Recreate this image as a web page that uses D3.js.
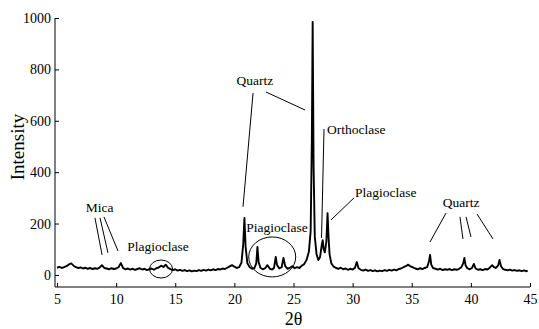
<!DOCTYPE html>
<html>
<head>
  <title>XRD pattern</title>
  <script src="https://d3js.org/d3.v7.min.js"></script>
  <style>
    body { margin: 0; background: #fff; }
    text { font-family: "Liberation Serif", "Times New Roman", Times, serif; fill: #000; }
  </style>
</head>
<body>
<script>

var width = 539;
var height = 329;

// diffraction pattern
var twoTheta = [5.0,5.2,5.4,5.6,5.8,6.0,6.2,6.4,6.6,6.8,7.0,7.2,7.4,7.6,7.8,8.0,8.2,8.4,8.6,8.8,
  9.0,9.2,9.4,9.6,9.8,10.0,10.2,10.4,10.6,10.8,11.0,11.2,11.4,11.6,11.8,12.0,12.2,12.4,12.6,12.8,
  13.0,13.2,13.4,13.6,13.8,14.0,14.2,14.4,14.6,14.8,15.0,15.2,15.4,15.6,15.8,16.0,16.2,16.4,16.6,16.8,
  17.0,17.2,17.4,17.6,17.8,18.0,18.2,18.4,18.6,18.8,19.0,19.2,19.4,19.6,19.8,20.0,20.2,20.4,
  20.6,20.75,20.85,20.95,21.1,21.3,21.5,21.7,21.85,21.95,22.05,22.2,22.4,22.6,22.8,23.0,23.2,23.35,23.5,23.6,
  23.8,24.0,24.15,24.3,24.5,24.7,24.9,25.1,25.3,25.5,25.7,25.9,26.1,26.3,26.45,26.55,26.62,26.7,26.8,26.95,
  27.1,27.25,27.4,27.47,27.55,27.65,27.78,27.88,27.96,28.05,28.2,28.4,28.6,28.8,29.0,29.2,29.4,29.6,29.8,30.0,
  30.2,30.35,30.5,30.7,30.9,31.1,31.3,31.5,31.7,31.9,32.1,32.3,32.5,32.7,32.9,33.1,33.3,33.5,33.7,33.9,
  34.1,34.3,34.5,34.7,34.9,35.1,35.3,35.5,35.7,35.9,36.1,36.3,36.45,36.55,36.65,36.8,37.0,37.2,37.4,37.6,
  37.8,38.0,38.2,38.4,38.6,38.8,39.0,39.2,39.35,39.45,39.55,39.7,39.9,40.1,40.25,40.4,40.6,40.8,41.0,41.2,
  41.4,41.6,41.8,41.95,42.1,42.3,42.42,42.55,42.7,42.9,43.1,43.3,43.5,43.7,43.9,44.1,44.3,44.5,44.7,44.8];

var intensity = [28,31,27,30,34,41,45,36,30,27,29,25,28,24,27,23,26,24,28,38,
  27,25,22,26,23,25,30,46,26,22,25,21,24,20,23,26,21,24,19,22,
  25,20,26,29,36,31,40,27,23,19,22,17,20,16,19,15,18,14,17,15,
  19,16,20,17,21,18,22,19,23,21,25,23,28,33,38,32,27,30,
  48,120,222,110,45,30,24,27,45,109,50,28,22,26,38,24,21,27,70,40,
  25,30,66,34,24,28,34,26,30,27,36,42,58,90,170,520,985,420,150,80,
  58,70,120,135,100,88,130,240,150,80,45,32,27,24,28,22,25,20,24,21,
  28,50,26,20,17,21,16,19,15,18,14,17,15,19,16,20,17,21,18,23,
  25,30,34,40,33,29,25,22,26,23,27,30,52,78,40,27,24,21,24,19,
  22,20,23,19,22,20,24,30,45,66,38,26,22,27,43,25,20,22,19,23,
  21,28,38,30,27,36,58,34,24,20,18,21,17,19,16,18,15,18,14,17];

var xTicks = [5, 10, 15, 20, 25, 30, 35, 40, 45];
var yTicks = [0, 200, 400, 600, 800, 1000];

// phase labels [text, 2theta, intensity, anchor]
var labels = [
  ['Mica', 8.6, 245, 'middle'],
  ['Plagioclase', 13.54, 93, 'middle'],
  ['Quartz', 21.74, 739, 'middle'],
  ['Orthoclase', 27.83, 549, 'start'],
  ['Plagioclase', 30.2, 303, 'start'],
  ['Piagioclase', 23.6, 167, 'middle'],
  ['Quartz', 39.17, 265, 'middle']
];

// leader lines [2theta1, I1, 2theta2, I2]
var leaders = [
  [8.21, 222, 8.81, 78],
  [8.64, 222, 9.31, 86],
  [8.97, 226, 10.16, 93],
  [21.58, 708, 20.73, 265],
  [22.67, 712, 25.97, 642],
  [27.58, 568, 27.37, 144],
  [30.12, 300, 28.17, 214],
  [37.90, 241, 36.54, 128],
  [39.08, 226, 39.33, 140],
  [39.59, 226, 40.01, 148],
  [40.52, 237, 41.87, 140]
];

// circled regions [2theta, intensity, rx, ry]
var rings = [
  [13.8, 23, 11.5, 9],
  [23.2, 70, 23.5, 20]
];

var svg = d3.select('body')
  .append('svg')
  .attr('width', width)
  .attr('height', height);

svg.append('rect')
  .attr('width', width)
  .attr('height', height)
  .attr('fill', '#fff');

var x = d3.scaleLinear().domain([5, 45]).range([57, 530]);
var y = d3.scaleLinear().domain([-47, 1000]).range([287, 18]);

// axes, ticks pointing inwards
var xAxis = svg.append('g')
  .attr('transform', 'translate(0,' + y(-47) + ')')
  .call(d3.axisBottom(x).tickValues(xTicks).tickFormat(d3.format('d'))
    .tickSizeInner(-4).tickSizeOuter(0).tickPadding(7));
xAxis.attr('font-family', null).attr('font-size', null);
xAxis.select('.domain').remove();
xAxis.selectAll('text').style('font-size', '14px');

var yAxis = svg.append('g')
  .attr('transform', 'translate(55,0)')
  .call(d3.axisLeft(y).tickValues(yTicks).tickFormat(d3.format('d'))
    .tickSizeInner(-4).tickSizeOuter(0).tickPadding(4));
yAxis.attr('font-family', null).attr('font-size', null);
yAxis.select('.domain').remove();
yAxis.selectAll('text').style('font-size', '14px');

svg.append('line')
  .attr('x1', 55).attr('x2', x(45))
  .attr('y1', y(-47)).attr('y2', y(-47))
  .attr('stroke', '#000');
svg.append('line')
  .attr('x1', 55).attr('x2', 55)
  .attr('y1', y(-47)).attr('y2', y(1000))
  .attr('stroke', '#000');

// the pattern
var pts = twoTheta.map(function(t, i) { return [t, intensity[i]]; });
var line = d3.line()
  .x(function(d) { return x(d[0]); })
  .y(function(d) { return y(d[1]); });

svg.append('path')
  .datum(pts)
  .attr('d', line)
  .attr('fill', 'none')
  .attr('stroke', '#000')
  .attr('stroke-width', 1.9)
  .attr('stroke-linejoin', 'round');

// annotations
svg.selectAll('line.leader')
  .data(leaders)
  .enter()
  .append('line')
  .attr('class', 'leader')
  .attr('x1', function(d) { return x(d[0]); })
  .attr('y1', function(d) { return y(d[1]); })
  .attr('x2', function(d) { return x(d[2]); })
  .attr('y2', function(d) { return y(d[3]); })
  .attr('stroke', '#000')
  .attr('stroke-width', 1);

svg.selectAll('ellipse')
  .data(rings)
  .enter()
  .append('ellipse')
  .attr('cx', function(d) { return x(d[0]); })
  .attr('cy', function(d) { return y(d[1]); })
  .attr('rx', function(d) { return d[2]; })
  .attr('ry', function(d) { return d[3]; })
  .attr('fill', 'none')
  .attr('stroke', '#000')
  .attr('stroke-width', 1);

svg.selectAll('text.label')
  .data(labels)
  .enter()
  .append('text')
  .attr('class', 'label')
  .attr('x', function(d) { return x(d[1]); })
  .attr('y', function(d) { return y(d[2]); })
  .attr('text-anchor', function(d) { return d[3]; })
  .style('font-size', '13.5px')
  .text(function(d) { return d[0]; });

// axis titles
svg.append('text')
  .attr('transform', 'translate(24,147) rotate(-90)')
  .attr('text-anchor', 'middle')
  .style('font-size', '19px')
  .text('Intensity');

svg.append('text')
  .attr('x', x(25))
  .attr('y', 325)
  .attr('text-anchor', 'middle')
  .style('font-size', '18px')
  .text('2θ');

</script>
</body>
</html>
